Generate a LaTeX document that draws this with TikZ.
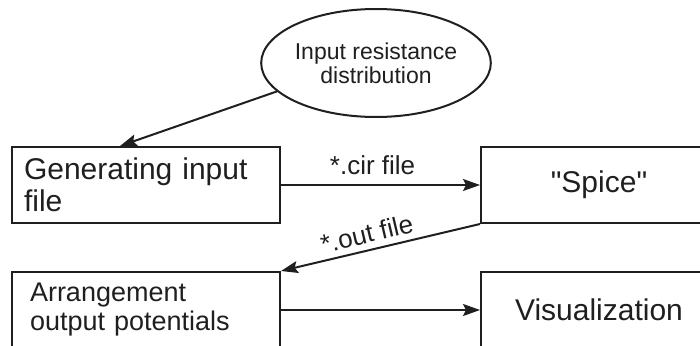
\documentclass[tikz,border=0pt]{standalone}
\usepackage{fontspec}
\setmainfont{Liberation Sans}[Ligatures=TeXOff]
\usetikzlibrary{arrows.meta, shapes.geometric}
\definecolor{mainBlack}{gray}{0.12}

\tikzset{
    stagebox/.style={draw=mainBlack, line width=2pt, minimum width=268pt, minimum height=76pt,
        inner ysep=0pt, anchor=north west, text=mainBlack},
    leftbox/.style={stagebox, align=left, inner xsep=12pt, text width=244pt},
    centerbox/.style={stagebox, align=center, minimum width=236pt},
    oval/.style={ellipse, draw=mainBlack, line width=2pt, minimum width=198pt, minimum height=108pt,
        inner sep=0pt, align=center, text=mainBlack, font=\fontsize{23pt}{24pt}\selectfont},
    flow/.style={->, line width=2pt, mainBlack},
    filelabel/.style={inner sep=0pt, text=mainBlack, font=\fontsize{26pt}{28pt}\selectfont}
}

\begin{document}
\begin{tikzpicture}[x=1pt, y=-1pt, >={Stealth[length=17pt, width=12pt, inset=3pt]}]
    \useasboundingbox (0,0) rectangle (700,345);
    \clip (0,0) rectangle (700,345);

    \node[oval] (dist) at (376,63) {Input resistance\\distribution};

    \node[leftbox, font=\fontsize{30pt}{31.5pt}\selectfont] (gen) at (11,146) {Generating input\\file};
    \node[centerbox, font=\fontsize{30pt}{31.5pt}\selectfont] (spice) at (480,146) {"Spice"};
    \node[leftbox, inner xsep=18pt, text width=232pt, font=\fontsize{27pt}{29pt}\selectfont] (arrange) at (11,271) {Arrangement\\output potentials};
    \node[centerbox, font=\fontsize{30pt}{31.5pt}\selectfont] (visual) at (480,271) {Visualization};

    \draw[flow] (dist.196) -- ([xshift=-26pt]gen.north);
    \draw[flow] (gen) -- node[filelabel, pos=0.46, above=9pt] {*.cir file} (spice);
    \draw[flow] (spice.south west) -- node[filelabel, pos=0.55, sloped, above=6pt] {*.out file} (arrange.north east);
    \draw[flow] (arrange) -- (visual);
\end{tikzpicture}
\end{document}
